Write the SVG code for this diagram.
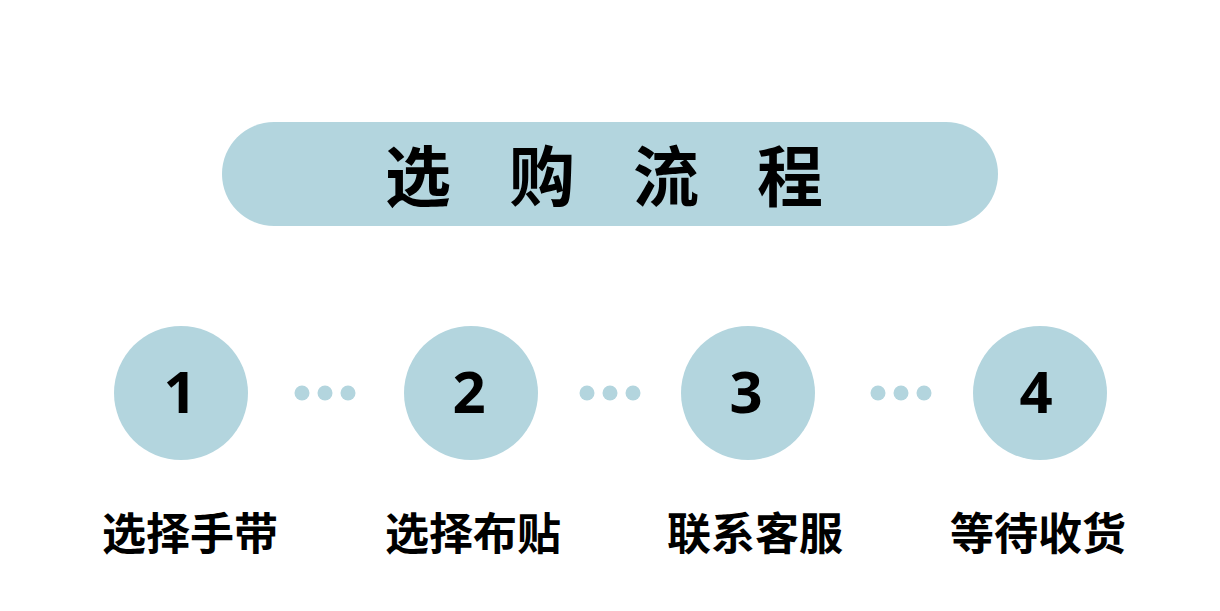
<svg xmlns="http://www.w3.org/2000/svg" width="1220" height="611" viewBox="0 0 1220 611">
<style>
.bg{fill:#b3d5de}
.title{font-family:"Noto Sans CJK SC",sans-serif;font-weight:700;font-size:66px;fill:#000;text-anchor:middle;letter-spacing:58px}
.num{font-family:"Noto Sans","DejaVu Sans",sans-serif;font-weight:700;font-size:58px;fill:#000;text-anchor:middle}
.lbl{font-family:"Noto Sans CJK SC",sans-serif;font-weight:700;font-size:44px;fill:#000;text-anchor:middle}
</style>
<rect width="1220" height="611" fill="#fff"/>
<g id="title">
<rect class="bg" x="222" y="122" width="776" height="104" rx="52"/>
<text class="title" x="633" y="201">选购流程</text>
</g>
<g id="connectors">
<circle class="bg" cx="302" cy="393" r="7.5"/><circle class="bg" cx="325" cy="393" r="7.5"/><circle class="bg" cx="348" cy="393" r="7.5"/>
<circle class="bg" cx="587" cy="393" r="7.5"/><circle class="bg" cx="610" cy="393" r="7.5"/><circle class="bg" cx="633" cy="393" r="7.5"/>
<circle class="bg" cx="878" cy="393" r="7.5"/><circle class="bg" cx="901" cy="393" r="7.5"/><circle class="bg" cx="924" cy="393" r="7.5"/>
</g>
<g id="step1"><circle class="bg" cx="181" cy="393" r="67"/><text class="num" x="180" y="413">1</text><text class="lbl" x="190" y="550">选择手带</text></g>
<g id="step2"><circle class="bg" cx="471" cy="393" r="67"/><text class="num" x="469" y="413">2</text><text class="lbl" x="473" y="550">选择布贴</text></g>
<g id="step3"><circle class="bg" cx="748" cy="393" r="67"/><text class="num" x="746" y="413">3</text><text class="lbl" x="755" y="550">联系客服</text></g>
<g id="step4"><circle class="bg" cx="1040" cy="393" r="67"/><text class="num" x="1036" y="413">4</text><text class="lbl" x="1038" y="550">等待收货</text></g>
</svg>
